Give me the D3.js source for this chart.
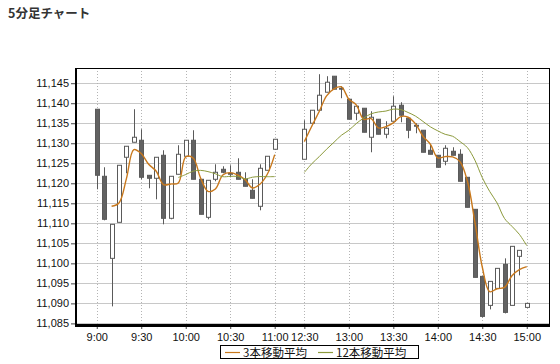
<!DOCTYPE html>
<html>
<head>
<meta charset="utf-8">
<script src="https://cdn.jsdelivr.net/npm/d3@7"></script>
<style>
  html, body { margin: 0; padding: 0; background: #fff; }
  svg { display: block; }
</style>
</head>
<body>
<svg id="chart" width="560" height="364"></svg>
<script>
// ---- data ----
const times = ["9:00","9:05","9:10","9:15","9:20","9:25","9:30","9:35","9:40","9:45","9:50","9:55",
  "10:00","10:05","10:10","10:15","10:20","10:25","10:30","10:35","10:40","10:45","10:50","10:55","11:00",
  "12:30","12:35","12:40","12:45","12:50","12:55","13:00","13:05","13:10","13:15","13:20","13:25",
  "13:30","13:35","13:40","13:45","13:50","13:55","14:00","14:05","14:10","14:15","14:20","14:25",
  "14:30","14:35","14:40","14:45","14:50","14:55","15:00"];
const open = [11138.5,11121.75,11101.25,11110.25,11126.5,11130.25,11130.75,11122,11121.25,11127,11111.25,11122.25,
  11126.75,11130.75,11121,11111.5,11121,11123.5,11122.25,11122.75,11121,11118.25,11114.25,11123.25,11128.5,
  11126,11135,11138.25,11142.75,11146.75,11143.75,11141,11137.5,11138.75,11131.5,11136,11132.25,
  11135.5,11139.5,11136.25,11134.5,11133.25,11128.25,11127,11125.5,11128,11127.25,11121.5,11113.5,
  11096.75,11089.5,11093.75,11099.75,11089.5,11101.75,11089];
const high = [11138.5,11124,11109.75,11124.5,11129.25,11138.5,11133.5,11122,11126.5,11128.25,11121.75,11129.5,
  11130.75,11133.25,11121,11120.75,11124.75,11124.25,11124.5,11126.25,11122.75,11121,11124.75,11126.75,11131,
  11135.75,11138.25,11147.25,11146.75,11146.75,11144.25,11141,11139.25,11138.75,11138,11136,11135.5,
  11141.75,11140.25,11136.25,11135,11133.25,11129.75,11127,11129.5,11129,11128.5,11121.5,11113.5,
  11096.75,11095.5,11098.75,11101.25,11104.25,11103.25,11090];
const low = [11118.5,11110.75,11089.25,11110.25,11122.5,11130.25,11121,11118.75,11116,11109.75,11111,11122.25,
  11126.75,11121,11112.25,11111,11120.5,11122.5,11121.5,11121,11119.25,11116.25,11113.25,11123.25,11128.5,
  11126,11135,11138.25,11142.75,11143.5,11141.25,11136,11135.75,11132.75,11127.75,11132.25,11131.25,
  11135.5,11135.25,11131.25,11132.5,11127.75,11127.25,11124,11124.5,11127,11120.5,11114,11096.5,
  11086.5,11088.5,11093.75,11087.5,11089.5,11097,11089];
const close = [11122,11111,11109.75,11124.5,11129.25,11131.5,11121.5,11121.25,11126.5,11111.25,11121.75,11127.25,
  11130.75,11121,11112.25,11120.75,11122.75,11122.75,11122.5,11121,11119.25,11116.25,11123.75,11126.75,11131,
  11133.5,11138.25,11142,11145.25,11143.5,11143.5,11136,11139.25,11132.75,11136.5,11132.25,11133.75,
  11139.25,11137,11133.25,11134.25,11127.75,11127.25,11124,11128.75,11127,11120.5,11114,11096.5,
  11086.75,11095.5,11098.75,11087.75,11104.25,11103.25,11090];

const xTickLabels = ["9:00","9:30","10:00","10:30","11:00","12:30","13:00","13:30","14:00","14:30","15:00"];
const yTickValues = [11085,11090,11095,11100,11105,11110,11115,11120,11125,11130,11135,11140,11145];
const maNames = ["3本移動平均","12本移動平均"];
const maPeriods = [3, 12];
const maColors = ["#c8781c","#8c9a3c"];
const title = "5分足チャート";
const afternoonStart = "12:30";
const lunchGapSlots = 3;

// ---- layout ----
const svg = d3.select("#chart");
const plot = {left: 76, right: 549, top: 68, bottom: 325};
const breakIdx = times.indexOf(afternoonStart);
const slot = i => (i < breakIdx ? i : i + lunchGapSlots);

const x = d3.scaleLinear().domain([-2.8, 61]).range([plot.left, plot.right]);
const y = d3.scaleLinear().domain([11084.6, 11148.8]).range([plot.bottom, plot.top]);

// title
svg.append("text").attr("x", 8).attr("y", 18)
  .attr("font-family", "'Noto Sans CJK JP', sans-serif")
  .attr("font-size", 12.5).attr("font-weight", "bold").attr("fill", "#333")
  .text(title);

// horizontal grid
svg.append("g").selectAll("line").data(yTickValues).join("line")
  .attr("x1", plot.left).attr("x2", plot.right)
  .attr("y1", d => Math.round(y(d)) + 0.5).attr("y2", d => Math.round(y(d)) + 0.5)
  .attr("stroke", "#c8c8c8").attr("stroke-width", 1);

// vertical dotted grid
const xTickSlots = xTickLabels.map(l => slot(times.indexOf(l)));
svg.append("g").selectAll("line").data(xTickSlots).join("line")
  .attr("x1", d => Math.round(x(d)) + 0.5).attr("x2", d => Math.round(x(d)) + 0.5)
  .attr("y1", plot.top).attr("y2", plot.bottom)
  .attr("stroke", "#b4b4b4").attr("stroke-width", 1).attr("stroke-dasharray", "1,2");

// y axis
const yAxis = d3.axisLeft(y).tickValues(yTickValues).tickSize(5).tickPadding(2)
  .tickFormat(d3.format(","));
const gy = svg.append("g").attr("transform", `translate(${plot.left},0)`).call(yAxis);
gy.select(".domain").remove();
gy.selectAll("line").attr("stroke", "#444");
gy.selectAll("text").attr("font-family", "'Liberation Sans', Arial, sans-serif")
  .attr("font-size", 11).attr("fill", "#111");

// x axis
const xAxis = d3.axisBottom(x)
  .tickValues(xTickSlots)
  .tickFormat(s => xTickLabels[xTickSlots.indexOf(s)])
  .tickSize(4).tickPadding(4);
const gx = svg.append("g").attr("transform", `translate(0,${plot.bottom})`).call(xAxis);
gx.select(".domain").remove();
gx.selectAll("line").attr("stroke", "#444");
gx.selectAll("text").attr("font-family", "'Liberation Sans', Arial, sans-serif")
  .attr("font-size", 11).attr("fill", "#111");

// frame
svg.append("line").attr("x1", plot.left).attr("x2", plot.right).attr("y1", plot.top + 0.5).attr("y2", plot.top + 0.5)
  .attr("stroke", "#000").attr("stroke-width", 1);
svg.append("line").attr("x1", plot.right + 0.5).attr("x2", plot.right + 0.5).attr("y1", plot.top).attr("y2", plot.bottom)
  .attr("stroke", "#000").attr("stroke-width", 1);
svg.append("line").attr("x1", plot.left).attr("x2", plot.left).attr("y1", plot.top).attr("y2", plot.bottom)
  .attr("stroke", "#000").attr("stroke-width", 2);
svg.append("line").attr("x1", plot.left - 1).attr("x2", plot.right + 1).attr("y1", plot.bottom + 0.5).attr("y2", plot.bottom + 0.5)
  .attr("stroke", "#000").attr("stroke-width", 3);

// candles
const bars = times.map((t, i) => ({t, i, o: open[i], h: high[i], l: low[i], c: close[i]}));
const gc = svg.append("g");
const cx = d => Math.round(x(slot(d.i))) + 0.5;
gc.selectAll("line.wick").data(bars).join("line").attr("class", "wick")
  .attr("x1", cx).attr("x2", cx)
  .attr("y1", d => y(d.h)).attr("y2", d => y(d.l))
  .attr("stroke", "#5a5a5a").attr("stroke-width", 1);
gc.selectAll("rect.body").data(bars).join("rect").attr("class", "body")
  .attr("x", d => cx(d) - 2).attr("width", 4)
  .attr("y", d => y(Math.max(d.o, d.c)))
  .attr("height", d => Math.max(1, Math.abs(y(d.o) - y(d.c))))
  .attr("fill", d => d.c < d.o ? "#626262" : "#ffffff")
  .attr("stroke", "#5a5a5a").attr("stroke-width", 1);

// moving averages (from the close values)
maPeriods.forEach((p, k) => {
  const ma = close.map((c, i) => i >= p - 1 ? d3.mean(close.slice(i - p + 1, i + 1)) : null);
  const segs = [
    d3.range(p - 1, breakIdx),
    d3.range(breakIdx, close.length)
  ];
  const line = d3.line().x(i => x(slot(i))).y(i => y(ma[i])).curve(d3.curveCatmullRom.alpha(0.5));
  segs.forEach(seg => {
    svg.append("path").attr("d", line(seg)).attr("fill", "none")
      .attr("stroke", maColors[k]).attr("stroke-width", k === 0 ? 1.4 : 1);
  });
});

// legend
const lg = svg.append("g");
lg.append("rect").attr("x", 220.5).attr("y", 345.5).attr("width", 198).attr("height", 13)
  .attr("fill", "#fff").attr("stroke", "#000").attr("stroke-width", 1);
const legendX = [[225, 243], [318, 336]];
maNames.forEach((n, k) => {
  lg.append("line").attr("x1", legendX[k][0]).attr("x2", legendX[k][0] + 15)
    .attr("y1", 352.5).attr("y2", 352.5).attr("stroke", maColors[k]).attr("stroke-width", 1.2);
  lg.append("text").attr("x", legendX[k][1]).attr("y", 356.5)
    .attr("font-family", "'Noto Sans CJK JP', sans-serif").attr("font-size", 11.5).attr("fill", "#111")
    .text(n);
});
</script>
</body>
</html>
